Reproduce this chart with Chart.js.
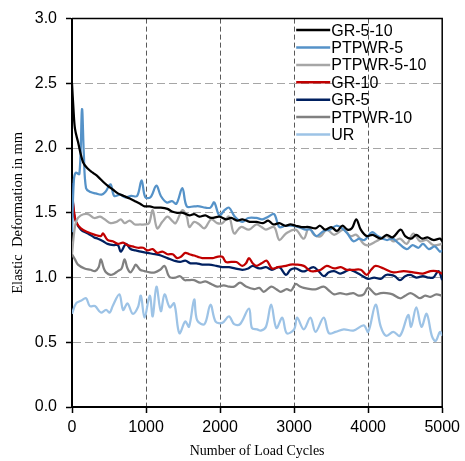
<!DOCTYPE html>
<html>
<head>
<meta charset="utf-8">
<script src="https://cdn.jsdelivr.net/npm/chart.js@4"></script>
<style>
  body { margin: 0; background: #fff; }
  canvas { display: block; }
</style>
</head>
<body>
<canvas id="myChart" width="465" height="461"></canvas>
<script>
// series labels (legend order)
const seriesNames = ["GR-5-10", "PTPWR-5", "PTPWR-5-10", "GR-10", "GR-5", "PTPWR-10", "UR"];
const seriesColors = ["#000000", "#5592C8", "#A6A6A6", "#C00000", "#002060", "#808080", "#9DC3E6"];

// cycles / elastic deformation (mm)
const gr510Cycles = [0, 20, 40, 80, 150, 215, 280, 350, 420, 480, 550, 620, 700, 780, 850, 920, 980, 1050, 1120, 1200, 1290, 1350, 1420, 1500, 1585, 1650, 1720, 1800, 1880, 1990, 2080, 2150, 2230, 2300, 2400, 2490, 2580, 2650, 2720, 2800, 2880, 2950, 3020, 3100, 3200, 3290, 3350, 3420, 3500, 3580, 3650, 3720, 3780, 3840, 3900, 3980, 4060, 4170, 4250, 4330, 4440, 4500, 4580, 4650, 4730, 4800, 4880, 4970, 5000];
const gr510Values = [2.50, 2.30, 2.15, 2.05, 1.89, 1.84, 1.81, 1.78, 1.74, 1.71, 1.68, 1.65, 1.63, 1.61, 1.59, 1.57, 1.55, 1.55, 1.54, 1.54, 1.53, 1.51, 1.50, 1.50, 1.48, 1.49, 1.47, 1.48, 1.46, 1.47, 1.45, 1.46, 1.44, 1.45, 1.43, 1.43, 1.42, 1.44, 1.41, 1.42, 1.40, 1.41, 1.40, 1.39, 1.39, 1.38, 1.40, 1.37, 1.39, 1.36, 1.40, 1.37, 1.38, 1.45, 1.37, 1.32, 1.33, 1.30, 1.33, 1.31, 1.37, 1.32, 1.30, 1.33, 1.30, 1.31, 1.29, 1.30, 1.28];

const ptpwr5Cycles = [0, 25, 50, 100, 135, 160, 190, 250, 320, 400, 450, 520, 570, 650, 720, 800, 880, 940, 990, 1060, 1140, 1200, 1280, 1350, 1410, 1490, 1550, 1650, 1720, 1800, 1870, 1920, 1990, 2060, 2120, 2200, 2300, 2380, 2490, 2570, 2650, 2730, 2800, 2880, 2960, 3060, 3150, 3220, 3300, 3400, 3480, 3570, 3650, 3720, 3800, 3880, 3950, 4050, 4130, 4250, 4330, 4400, 4520, 4600, 4680, 4740, 4820, 4900, 4970, 5000];
const ptpwr5Values = [1.35, 1.75, 1.81, 1.80, 2.30, 1.95, 1.69, 1.66, 1.65, 1.64, 1.66, 1.72, 1.63, 1.64, 1.62, 1.63, 1.63, 1.75, 1.62, 1.62, 1.71, 1.63, 1.58, 1.59, 1.57, 1.69, 1.55, 1.55, 1.55, 1.54, 1.54, 1.58, 1.48, 1.52, 1.54, 1.47, 1.43, 1.46, 1.46, 1.45, 1.47, 1.49, 1.39, 1.40, 1.40, 1.39, 1.37, 1.37, 1.32, 1.36, 1.37, 1.40, 1.38, 1.34, 1.28, 1.30, 1.29, 1.35, 1.32, 1.29, 1.30, 1.27, 1.22, 1.25, 1.23, 1.26, 1.22, 1.24, 1.20, 1.21];

const ptpwr510Cycles = [0, 30, 60, 120, 215, 300, 380, 440, 520, 600, 660, 710, 780, 850, 920, 980, 1040, 1090, 1150, 1220, 1290, 1350, 1400, 1490, 1550, 1585, 1650, 1720, 1790, 1880, 1960, 2030, 2120, 2190, 2280, 2390, 2490, 2560, 2620, 2730, 2800, 2890, 3020, 3130, 3200, 3270, 3360, 3440, 3540, 3670, 3760, 3840, 3940, 4000, 4110, 4250, 4340, 4430, 4520, 4610, 4700, 4790, 4880, 5000];
const ptpwr510Values = [1.18, 1.35, 1.44, 1.48, 1.49, 1.46, 1.47, 1.45, 1.42, 1.43, 1.45, 1.42, 1.44, 1.41, 1.41, 1.41, 1.42, 1.52, 1.38, 1.43, 1.47, 1.44, 1.42, 1.52, 1.47, 1.39, 1.43, 1.41, 1.38, 1.45, 1.42, 1.42, 1.47, 1.34, 1.39, 1.37, 1.41, 1.39, 1.37, 1.39, 1.29, 1.34, 1.37, 1.30, 1.39, 1.33, 1.32, 1.37, 1.33, 1.37, 1.32, 1.33, 1.26, 1.25, 1.28, 1.32, 1.28, 1.30, 1.26, 1.34, 1.28, 1.29, 1.25, 1.26];

const gr10Cycles = [0, 30, 55, 120, 215, 310, 390, 420, 480, 550, 620, 690, 750, 820, 890, 960, 1020, 1090, 1150, 1220, 1290, 1360, 1420, 1470, 1530, 1585, 1650, 1700, 1760, 1830, 1900, 1960, 2030, 2080, 2150, 2220, 2300, 2350, 2390, 2440, 2490, 2560, 2630, 2700, 2780, 2890, 2950, 3020, 3130, 3220, 3290, 3360, 3440, 3540, 3630, 3710, 3800, 3900, 3980, 4040, 4100, 4210, 4340, 4480, 4610, 4740, 4840, 4920, 5000];
const gr10Values = [1.64, 1.50, 1.43, 1.38, 1.35, 1.33, 1.32, 1.34, 1.29, 1.28, 1.26, 1.27, 1.25, 1.24, 1.23, 1.23, 1.21, 1.22, 1.19, 1.20, 1.18, 1.18, 1.15, 1.16, 1.19, 1.18, 1.17, 1.16, 1.15, 1.15, 1.15, 1.16, 1.16, 1.12, 1.12, 1.12, 1.09, 1.11, 1.15, 1.11, 1.09, 1.11, 1.13, 1.07, 1.08, 1.09, 1.10, 1.10, 1.09, 1.05, 1.05, 1.06, 1.09, 1.07, 1.08, 1.06, 1.06, 1.06, 1.02, 1.06, 1.09, 1.07, 1.04, 1.05, 1.04, 1.03, 1.05, 1.05, 1.03];

const gr5Cycles = [0, 25, 55, 120, 215, 300, 350, 420, 480, 560, 620, 660, 730, 790, 860, 930, 1020, 1120, 1200, 1290, 1380, 1460, 1530, 1600, 1680, 1760, 1850, 1950, 2030, 2120, 2200, 2300, 2380, 2440, 2530, 2620, 2700, 2800, 2890, 2950, 3020, 3100, 3150, 3260, 3330, 3400, 3470, 3540, 3620, 3670, 3740, 3800, 3900, 4000, 4080, 4170, 4240, 4300, 4360, 4430, 4500, 4570, 4650, 4740, 4810, 4880, 4950, 5000];
const gr5Values = [1.73, 1.50, 1.43, 1.37, 1.34, 1.31, 1.30, 1.28, 1.26, 1.25, 1.25, 1.20, 1.26, 1.22, 1.21, 1.20, 1.19, 1.18, 1.17, 1.15, 1.13, 1.12, 1.13, 1.11, 1.11, 1.10, 1.10, 1.09, 1.08, 1.08, 1.07, 1.06, 1.07, 1.09, 1.07, 1.08, 1.06, 1.08, 1.02, 1.06, 1.07, 1.05, 1.05, 1.08, 1.05, 1.01, 1.04, 1.05, 1.03, 1.04, 1.06, 1.05, 1.02, 0.99, 1.00, 0.99, 1.02, 1.02, 1.01, 0.98, 1.01, 1.02, 1.00, 1.01, 1.00, 1.00, 1.05, 0.98];

const ptpwr10Cycles = [0, 40, 80, 170, 250, 310, 360, 390, 430, 460, 520, 570, 620, 670, 710, 750, 790, 830, 860, 920, 980, 1050, 1120, 1190, 1250, 1300, 1330, 1400, 1460, 1520, 1560, 1650, 1730, 1800, 1880, 1960, 2050, 2120, 2190, 2270, 2350, 2460, 2530, 2590, 2690, 2760, 2820, 2900, 2960, 3020, 3080, 3130, 3220, 3300, 3400, 3470, 3540, 3620, 3710, 3800, 3870, 3940, 4000, 4100, 4170, 4250, 4330, 4430, 4500, 4570, 4640, 4700, 4770, 4840, 4920, 5000];
const ptpwr10Values = [1.18, 1.14, 1.10, 1.07, 1.06, 1.05, 1.08, 1.14, 1.07, 1.04, 1.02, 1.03, 1.05, 1.07, 1.14, 1.07, 1.04, 1.07, 1.10, 1.06, 1.05, 1.04, 1.04, 1.06, 1.09, 1.02, 1.00, 1.00, 1.01, 0.98, 0.98, 0.98, 0.96, 0.97, 0.95, 0.93, 0.94, 0.93, 0.93, 0.96, 0.93, 0.91, 0.92, 0.89, 0.93, 0.91, 0.89, 0.91, 0.90, 0.95, 0.93, 0.92, 0.91, 0.91, 0.93, 0.90, 0.87, 0.88, 0.87, 0.88, 0.86, 0.87, 0.92, 0.87, 0.88, 0.88, 0.87, 0.84, 0.86, 0.88, 0.86, 0.84, 0.86, 0.85, 0.87, 0.86];

const urCycles = [0, 55, 120, 190, 240, 310, 390, 460, 510, 550, 640, 690, 750, 820, 890, 930, 980, 1050, 1090, 1140, 1200, 1250, 1320, 1380, 1450, 1530, 1580, 1650, 1690, 1790, 1870, 1940, 2030, 2120, 2190, 2270, 2390, 2430, 2500, 2550, 2620, 2690, 2760, 2840, 2900, 3000, 3040, 3130, 3220, 3290, 3400, 3470, 3560, 3670, 3800, 3940, 4000, 4100, 4170, 4240, 4340, 4430, 4540, 4580, 4650, 4720, 4790, 4860, 4910, 4970, 5000];
const urValues = [0.72, 0.80, 0.82, 0.84, 0.78, 0.78, 0.73, 0.75, 0.73, 0.78, 0.87, 0.75, 0.80, 0.72, 0.77, 0.86, 0.69, 0.86, 0.70, 0.93, 0.74, 0.87, 0.77, 0.80, 0.57, 0.66, 0.62, 0.83, 0.67, 0.64, 0.79, 0.66, 0.65, 0.70, 0.64, 0.64, 0.76, 0.61, 0.60, 0.59, 0.62, 0.79, 0.61, 0.69, 0.57, 0.60, 0.69, 0.60, 0.69, 0.58, 0.69, 0.57, 0.58, 0.60, 0.59, 0.63, 0.58, 0.79, 0.62, 0.55, 0.58, 0.55, 0.71, 0.62, 0.77, 0.62, 0.72, 0.55, 0.51, 0.58, 0.55];

// axis ticks
const xTicks = [0, 1000, 2000, 3000, 4000, 5000];
const yTicks = [0.0, 0.5, 1.0, 1.5, 2.0, 2.5, 3.0];

const allCycles = [gr510Cycles, ptpwr5Cycles, ptpwr510Cycles, gr10Cycles, gr5Cycles, ptpwr10Cycles, urCycles];
const allValues = [gr510Values, ptpwr5Values, ptpwr510Values, gr10Values, gr5Values, ptpwr10Values, urValues];

function toPoints(xs, ys) {
  return xs.map((x, i) => ({ x: x, y: ys[i] }));
}

const datasets = seriesNames.map((name, i) => ({
  label: name,
  data: toPoints(allCycles[i], allValues[i]),
  borderColor: seriesColors[i],
  backgroundColor: seriesColors[i],
  borderWidth: 2.25,
  pointRadius: 0,
  tension: 0.35,
  fill: false
}));

const sansFont = '"Liberation Sans", Arial, sans-serif';
const serifFont = '"Liberation Serif", "Times New Roman", serif';

// legend drawn inside the plot, top right, no box
const insideLegend = {
  id: "insideLegend",
  afterDatasetsDraw(chart) {
    const ctx = chart.ctx;
    const area = chart.chartArea;
    const x0 = area.right - 146;
    const y0 = area.top + 11.5;
    ctx.save();
    ctx.font = "16px " + sansFont;
    ctx.textBaseline = "middle";
    ctx.textAlign = "left";
    chart.data.datasets.forEach((ds, i) => {
      const y = y0 + i * 17.4;
      ctx.strokeStyle = ds.borderColor;
      ctx.lineWidth = 2.5;
      ctx.beginPath();
      ctx.moveTo(x0, y);
      ctx.lineTo(x0 + 34, y);
      ctx.stroke();
      ctx.fillStyle = "#000";
      ctx.fillText(ds.label, x0 + 35, y + 1);
    });
    ctx.restore();
  }
};

// top and right frame of the plot
const plotFrame = {
  id: "plotFrame",
  beforeDatasetsDraw(chart) {
    const ctx = chart.ctx;
    const a = chart.chartArea;
    ctx.save();
    ctx.strokeStyle = "#000";
    ctx.lineWidth = 1.5;
    ctx.beginPath();
    ctx.moveTo(a.left, a.top);
    ctx.lineTo(a.right, a.top);
    ctx.lineTo(a.right, a.bottom);
    ctx.stroke();
    ctx.restore();
  }
};

new Chart(document.getElementById("myChart"), {
  type: "line",
  data: { datasets: datasets },
  plugins: [plotFrame, insideLegend],
  options: {
    responsive: false,
    animation: false,
    devicePixelRatio: 1,
    layout: { padding: { top: 15, right: 21, left: 0, bottom: 0 } },
    plugins: {
      legend: { display: false },
      tooltip: { enabled: false }
    },
    scales: {
      x: {
        type: "linear",
        min: 0,
        max: 5000,
        afterFit: (scale) => { scale.height = 54; },
        afterBuildTicks: (scale) => { scale.ticks = xTicks.map(v => ({ value: v })); },
        ticks: {
          color: "#000",
          font: { family: sansFont, size: 16 },
          padding: 5,
          maxRotation: 0,
          callback: (v) => String(v)
        },
        grid: {
          color: (c) => (c.tick && (c.tick.value === 0 || c.tick.value === 5000)) ? "rgba(0,0,0,0)" : "#595959",
          lineWidth: 1,
          tickColor: "#000",
          tickLength: 6,
          tickWidth: 1.5,
          tickBorderDash: []
        },
        border: { color: "#000", width: 2, dash: [5, 3] },
        title: {
          display: true,
          text: "Number of Load Cycles",
          color: "#000",
          font: { family: serifFont, size: 14 },
          padding: { top: 0, bottom: 1 }
        }
      },
      y: {
        min: 0,
        max: 3,
        afterFit: (scale) => { scale.width = 72; },
        afterBuildTicks: (scale) => { scale.ticks = yTicks.map(v => ({ value: v })); },
        ticks: {
          color: "#000",
          font: { family: sansFont, size: 16 },
          padding: 9,
          callback: (v) => Number(v).toFixed(1)
        },
        grid: {
          color: (c) => (c.tick && (c.tick.value === 0 || c.tick.value === 3)) ? "rgba(0,0,0,0)" : "#A6A6A6",
          lineWidth: 1,
          tickColor: "#000",
          tickLength: 6,
          tickWidth: 1.5,
          tickBorderDash: []
        },
        border: { color: "#000", width: 2, dash: [8, 4] },
        title: {
          display: true,
          text: "Elastic  Deformation in mm",
          color: "#000",
          font: { family: serifFont, size: 14.5 },
          padding: { top: 9, bottom: 0 }
        }
      }
    }
  }
});
</script>
</body>
</html>
